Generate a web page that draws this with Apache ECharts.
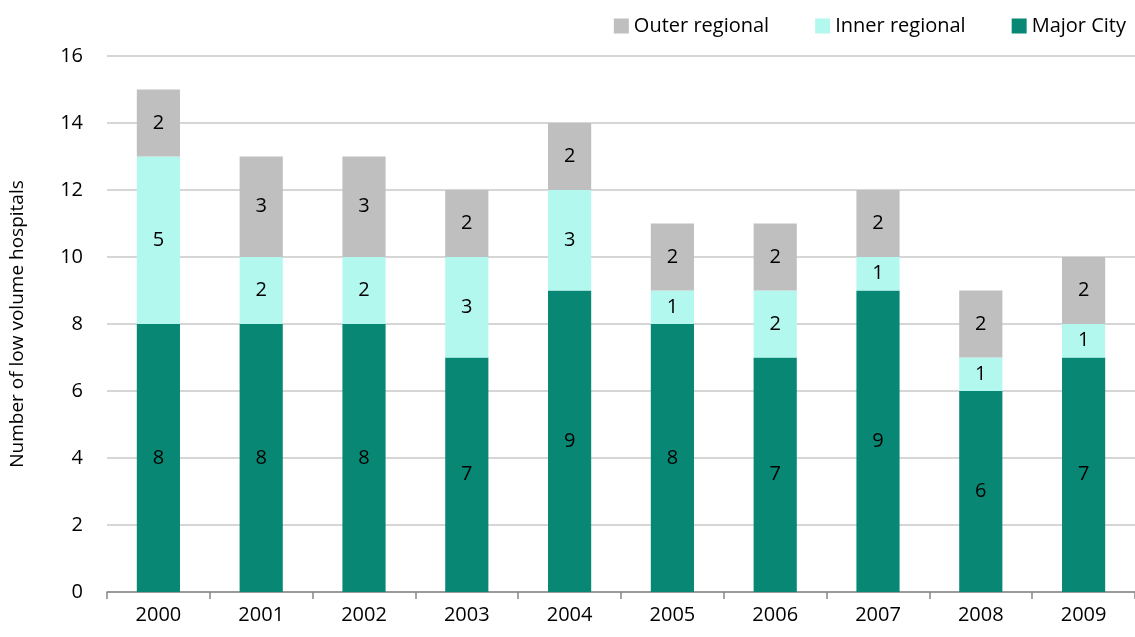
<!DOCTYPE html>
<html lang="en">
<head>
    <meta charset="UTF-8">
    <title>Low volume hospitals</title>
</head>
<body style="margin:0">
<div id="main" style="width:1135px;height:637px"></div>
<script src="https://cdn.jsdelivr.net/npm/echarts@6/dist/echarts.min.js"></script>
<script>
    var years = ['2000', '2001', '2002', '2003', '2004', '2005', '2006', '2007', '2008', '2009'];
    var majorCity = [8, 8, 8, 7, 9, 8, 7, 9, 6, 7];
    var innerRegional = [5, 2, 2, 3, 3, 1, 2, 1, 1, 1];
    var outerRegional = [2, 3, 3, 2, 2, 2, 2, 2, 2, 2];

    var font = 'Open Sans';
    var myChart = echarts.init(document.getElementById('main'));

    function seg(name, data, color) {
        return {
            name: name,
            type: 'bar',
            stack: 'total',
            barWidth: '42%',
            data: data,
            itemStyle: { color: color },
            label: {
                show: true,
                position: 'inside',
                color: '#000',
                fontFamily: font,
                fontSize: 20
            }
        };
    }

    myChart.setOption({
        animation: false,
        textStyle: { fontFamily: font },
        legend: {
            right: 4,
            top: 11,
            icon: 'rect',
            itemWidth: 15,
            itemHeight: 15,
            itemGap: 46,
            textStyle: { fontSize: 20, color: '#000', fontFamily: font },
            data: ['Outer regional', 'Inner regional', 'Major City']
        },
        grid: { left: 104, right: 0, top: 56, bottom: 45 },
        xAxis: {
            type: 'category',
            data: years,
            axisLine: { lineStyle: { color: '#868686', width: 1.5 } },
            axisTick: { show: true, length: 7, lineStyle: { color: '#868686', width: 1.5 } },
            axisLabel: { color: '#000', fontSize: 20, margin: 13, fontFamily: font }
        },
        yAxis: {
            type: 'value',
            min: 0,
            max: 16,
            interval: 2,
            name: 'Number of low volume hospitals',
            nameLocation: 'middle',
            nameGap: 80,
            nameTextStyle: { color: '#000', fontSize: 19, fontFamily: font },
            axisLine: { show: false },
            axisTick: { show: false },
            axisLabel: { color: '#000', fontSize: 20, margin: 24, fontFamily: font },
            splitLine: { lineStyle: { color: '#c8c8c8', width: 1.5 } }
        },
        series: [
            seg('Major City', majorCity, '#088874'),
            seg('Inner regional', innerRegional, '#b3f8ef'),
            seg('Outer regional', outerRegional, '#bfbfbf')
        ]
    });
</script>
</body>
</html>
